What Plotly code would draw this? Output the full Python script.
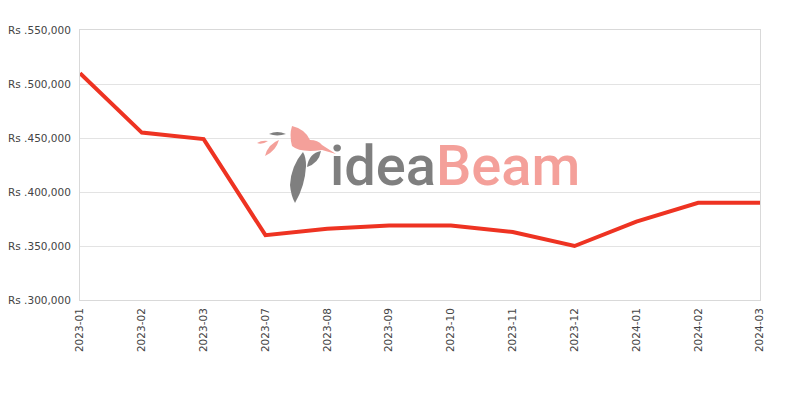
import plotly.graph_objects as go

months = ["2023-01", "2023-02", "2023-03", "2023-07", "2023-08", "2023-09",
          "2023-10", "2023-11", "2023-12", "2024-01", "2024-02", "2024-03"]
prices = [510000, 455000, 449000, 360000, 366000, 369000,
          369000, 363000, 350000, 372500, 390000, 390000]
y_ticks = [300000, 350000, 400000, 450000, 500000, 550000]
y_labels = ["Rs .{:,}".format(v) for v in y_ticks]

# plot area in window pixels (used only to place the decorative logo)
PX_L, PX_R, PX_T, PX_B = 80, 760, 30, 300


def to_paper(px, py):
    return (px - PX_L) / (PX_R - PX_L), (PX_B - py) / (PX_B - PX_T)


def logo_path(cmds):
    out = []
    for c in cmds:
        op, pts = c[0], c[1:]
        coords = []
        for i in range(0, len(pts), 2):
            x, y = to_paper(pts[i], pts[i + 1])
            coords.append("{:.4f},{:.4f}".format(x, y))
        out.append(op + " ".join(coords))
    return " ".join(out) + " Z"


GRAY = "#7f7f7f"
SALMON = "#f4a09a"
logo_shapes = [
    (GRAY, [("M", 269, 134), ("Q", 277, 130, 286, 134), ("Q", 277, 137, 269, 134)]),
    (SALMON, [("M", 257, 143), ("Q", 262, 140, 268, 141), ("Q", 262, 145, 257, 143)]),
    (SALMON, [("M", 265, 156), ("Q", 268, 144, 279, 140), ("Q", 276, 151, 265, 156)]),
    (SALMON, [("M", 292, 126), ("Q", 305, 129, 310, 140), ("Q", 318, 140, 322, 145),
              ("L", 336, 154), ("L", 322, 150), ("Q", 300, 153, 292, 146),
              ("Q", 289, 135, 292, 126)]),
    (GRAY, [("M", 303, 152), ("Q", 291, 166, 290, 185), ("Q", 291, 196, 295, 203),
            ("Q", 305, 186, 306, 166), ("Q", 306, 157, 303, 152)]),
    (GRAY, [("M", 321, 151), ("Q", 309, 153, 307, 167), ("Q", 319, 163, 321, 151)]),
]

fig = go.Figure()
fig.add_trace(go.Scatter(
    x=months, y=prices, mode="lines",
    line=dict(color="#ee3322", width=4),
    hoverinfo="x+y",
))

for color, cmds in logo_shapes:
    fig.add_shape(type="path", xref="paper", yref="paper", path=logo_path(cmds),
                  fillcolor=color, line=dict(width=0), layer="above")

lx, ly = to_paper(455, 166)
fig.add_annotation(xref="paper", yref="paper", x=lx, y=ly, xanchor="center", yanchor="middle",
                   text="idea<span style='color:#f4a09a'>Beam</span>", showarrow=False,
                   font=dict(family="Roboto", size=56, color="#7f7f7f", weight=500))

fig.update_layout(
    width=800, height=400,
    margin=dict(l=72, r=48, t=22, b=108, autoexpand=False),
    paper_bgcolor="white", plot_bgcolor="white",
    showlegend=False,
    font=dict(family="DejaVu Sans", size=10.5, color="#444444"),
    xaxis=dict(
        type="category", tickangle=-90, range=[0, len(months) - 1],
        showgrid=False, showline=True, linecolor="#d9d9d9", mirror=True,
        ticks="", ticklabelstandoff=3, tickfont=dict(size=10.5, color="#444444"),
    ),
    yaxis=dict(
        range=[300000, 550000], tickvals=y_ticks, ticktext=y_labels,
        showgrid=True, gridcolor="#e3e3e3", showline=True, linecolor="#d9d9d9", mirror=True,
        ticks="", ticklabelstandoff=6, zeroline=False, tickfont=dict(size=10.5, color="#444444"),
    ),
)

fig.write_html("out.html")
